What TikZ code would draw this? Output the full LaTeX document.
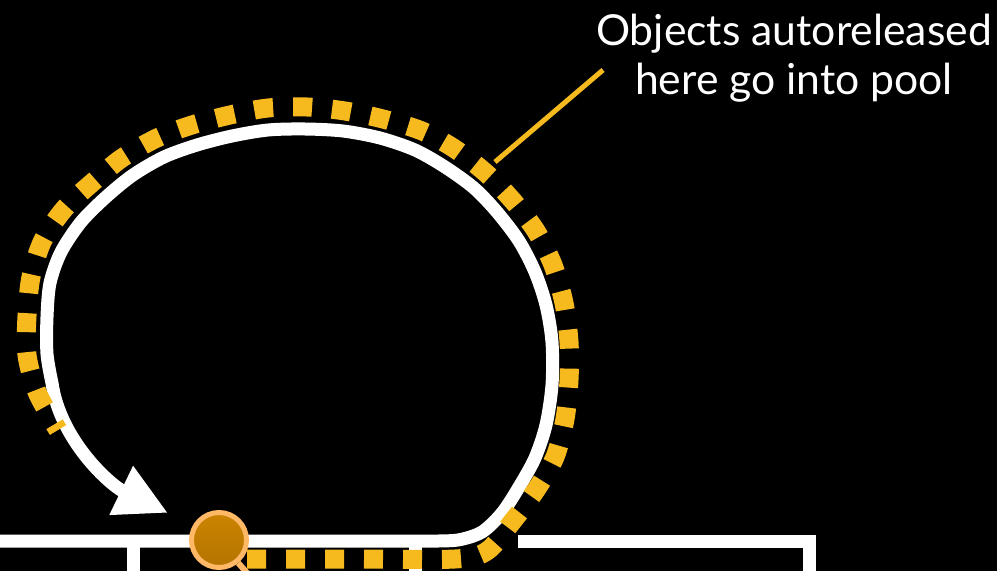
\documentclass[tikz,border=0pt]{standalone}
\usepackage{fontspec}
\setsansfont{Lato}
\usetikzlibrary{arrows.meta}
\definecolor{ouro}{HTML}{F6BA1F}
\definecolor{lupatopo}{HTML}{CC8400}
\definecolor{lupabase}{HTML}{B47400}
\definecolor{lupaborda}{HTML}{FFB866}
\tikzset{
  laco/.style = {draw=white, line width=9.75pt},
  pont/.style = {draw=ouro, line width=14.25pt, dash pattern=on 14.25pt off 15pt},
  lupa/.style = {circle, draw=lupaborda, line width=3.75pt, top color=lupatopo,
    bottom color=lupabase, minimum size=41.25pt, inner sep=0pt},
  cabo/.style = {draw=lupaborda, line width=4.5pt},
  guia/.style = {draw=ouro, line width=3.75pt},
  rot/.style = {font=\sffamily\fontsize{32}{37}\selectfont, text=white, align=center},
  seta/.style = {-{Triangle[length=39pt, width=38pt]}}
}

\begin{document}
\begin{tikzpicture}[x=0.75pt, y=-0.75pt]
  \useasboundingbox (0,0) rectangle (997,571);
  \clip (0,0) rectangle (997,571);
  \fill [black] (0,0) rectangle (997,571);

  % pilha de baixo
  \draw [laco] (133,541) -- (133,590);
  \draw [laco] (415,541) -- (415,590);
  \draw [laco] (518,541) -- (809,541) -- (809,590);

  % laco
  \draw [laco, seta] (0,541) -- plot [smooth] coordinates {(430,541) (458,540)
      (482,532) (502,513) (519,487) (535,458) (546,425) (552,385) (552,342)
      (546,305) (535,272) (519,241) (497,212) (474,188) (445,167) (415,150)
      (380,138) (343,131) (305,129) (268,130) (232,136) (197,145) (164,157)
      (133,175) (106,197) (81,222) (61,252) (50,283) (47,317) (47,354) (52,383)}
    .. controls (60,440) and (110,485) .. (168,513);

  % pool
  \draw [pont] plot [smooth] coordinates {(247,559) (350,559) (455,559)
      (487,551) (512,522) (536,490) (555,457) (565,419) (569,380) (569,342)
      (564,303) (553,265) (536,231) (513,201) (487,174) (455,149) (422,131)
      (383,119) (345,111) (307,107) (268,108) (230,115) (192,125) (157,138)
      (122,158) (93,182) (65,208) (43,240) (31,277) (27,316) (27,355)
      (37,392) (58,430)};

  \node [lupa] (lupa) at (219,540) {};
  \coordinate (cabofim) at (262,590);
  \draw [cabo] (lupa.-50) -- (cabofim);

  \node [rot] (nota) at (794,58) {Objects autoreleased\\here go into pool};
  \coordinate (ponta) at (495,162);
  \coordinate (fim) at (603,70);
  \draw [guia] (ponta) -- (fim);
\end{tikzpicture}
\end{document}
